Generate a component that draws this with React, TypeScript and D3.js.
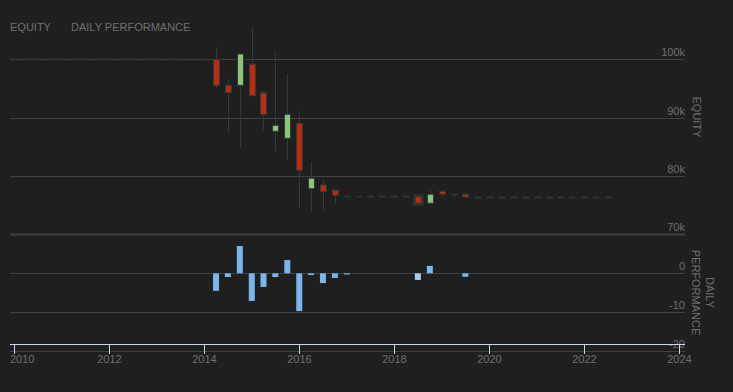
import React from "react";
import * as d3 from "d3";

const quarters = [
  "2010-01-01","2010-04-01","2010-07-01","2010-10-01",
  "2011-01-01","2011-04-01","2011-07-01","2011-10-01",
  "2012-01-01","2012-04-01","2012-07-01","2012-10-01",
  "2013-01-01","2013-04-01","2013-07-01","2013-10-01",
  "2014-01-01","2014-04-01","2014-07-01","2014-10-01",
  "2015-01-01","2015-04-01","2015-07-01","2015-10-01",
  "2016-01-01","2016-04-01","2016-07-01","2016-10-01",
  "2017-01-01","2017-04-01","2017-07-01","2017-10-01",
  "2018-01-01","2018-04-01","2018-07-01","2018-10-01",
  "2019-01-01","2019-04-01","2019-07-01","2019-10-01",
  "2020-01-01","2020-04-01","2020-07-01","2020-10-01",
  "2021-01-01","2021-04-01","2021-07-01","2021-10-01",
  "2022-01-01","2022-04-01","2022-07-01",
];

const openValues = [
  100000,100000,100000,100000,100000,100000,100000,100000,
  100000,100000,100000,100000,100000,100000,100000,100000,100000,
  100000,95544,95544,99143,94224,87661,86461,89032,77823,78458,77549,
  76650,76650,76650,76650,76650,76650,
  76450,75330,77378,76915,76864,
  76400,76400,76400,76400,76400,76400,76400,76400,76400,76400,76400,76400,
];
const highValues = [
  100000,100000,100000,100000,100000,100000,100000,100000,
  100000,100000,100000,100000,100000,100000,100000,100000,100000,
  102108,96624,101080,105535,94567,101251,97481,91140,82399,79434,77549,
  76650,76650,76650,76650,76650,76650,
  76450,77721,77378,76915,76864,
  76400,76400,76400,76400,76400,76400,76400,76400,76400,76400,76400,76400,
];
const lowValues = [
  100000,100000,100000,100000,100000,100000,100000,100000,
  100000,100000,100000,100000,100000,100000,100000,100000,100000,
  94961,87249,84850,93762,87935,84164,82794,74396,74054,74054,75253,
  76650,76650,76650,76650,76650,76650,
  75330,75330,76281,76110,76401,
  76400,76400,76400,76400,76400,76400,76400,76400,76400,76400,76400,76400,
];
const closeValues = [
  100000,100000,100000,100000,100000,100000,100000,100000,
  100000,100000,100000,100000,100000,100000,100000,100000,100000,
  95544,94276,100908,93762,90506,88689,90574,80977,79606,77310,76692,
  76650,76650,76650,76650,76650,76650,
  75330,76864,76864,76915,76401,
  76400,76400,76400,76400,76400,76400,76400,76400,76400,76400,76400,76400,
];
const perfValues = [
  0,0,0,0,0,0,0,0,0,0,0,0,0,0,0,0,0,
  -4.5,-0.95,7.0,-7.1,-3.5,-0.95,3.4,-9.7,-0.45,-2.5,-1.2,
  -0.3,0,0,0,0,0,
  -1.7,1.9,0,0,-0.9,
  0,0,0,0,0,0,0,0,0,0,0,0,
];

const equityTicks = [100000, 90000, 80000, 70000];
const equityTickLabels = ["100k", "90k", "80k", "70k"];
const perfTicks = [0, -10, -20];
const perfTickLabels = ["0", "-10", "-20"];
const yearTicks = [2010, 2012, 2014, 2016, 2018, 2020, 2022, 2024];

const W = 733, H = 392;
const FONT = "'Liberation Sans', Arial, sans-serif";
const BG = "#1f1f1f";
const GRID = "#404040";
const TXT = "#6f6f6f";
const AXIS = "#ccd6eb";
const RED = "#b92c0f";
const GREEN = "#8ec479";
const DARK = "#2f3b3b";
const BAR = "#7cb5ec";

export default function App() {
  const x = d3.scaleTime()
    .domain([new Date(2010, 0, 1), new Date(2024, 0, 1)])
    .range([14.3, 679.3]);
  const yE = d3.scaleLinear().domain([70000, 100000]).range([234.3, 59.3]);
  const yP = d3.scaleLinear().domain([-20, 10]).range([351.3, 234.3]);
  const dates = quarters.map((q) => d3.timeParse("%Y-%m-%d")(q) as Date);
  const left = 10, right = 685;
  const hoverIdx = 34;

  return (
    <div style={{ position: "fixed", left: 0, top: 0 }}>
      <svg width={W} height={H} style={{ display: "block", background: BG }} fontFamily={FONT}>
        <rect width={W} height={H} fill={BG} />
        <text x={10} y={31} fontSize={11} fill={TXT}>EQUITY</text>
        <text x={71} y={31} fontSize={11} fill={TXT}>DAILY PERFORMANCE</text>

        {equityTicks.map((t, i) => (
          <g key={"e" + t}>
            <line x1={left} x2={right} y1={Math.round(yE(t)) + 0.5} y2={Math.round(yE(t)) + 0.5}
              stroke={GRID} strokeWidth={t === 70000 ? 2 : 1} />
            <text x={right} y={yE(t) - 3} textAnchor="end" fontSize={11} fill={TXT}>{equityTickLabels[i]}</text>
          </g>
        ))}
        {perfTicks.map((t) => (
          <g key={"p" + t}>
            <line x1={left} x2={right} y1={Math.round(yP(t)) + 0.5} y2={Math.round(yP(t)) + 0.5}
              stroke={GRID} strokeWidth={1} />
          </g>
        ))}

        <text transform={`translate(693,117) rotate(90)`} textAnchor="middle" fontSize={11} fill={TXT}>EQUITY</text>
        <text transform={`translate(706,292.5) rotate(90)`} textAnchor="middle" fontSize={11} fill={TXT}>
          <tspan x={0} dy={0}>DAILY</tspan>
          <tspan x={0} dy={14}>PERFORMANCE</tspan>
        </text>

        {/* candles */}
        {dates.map((d, i) => {
          const cx = Math.round(x(d)) + 0.5;
          const o = openValues[i], c = closeValues[i];
          const hi = highValues[i], lo = lowValues[i];
          const yo = yE(o), yc = yE(c);
          const top = Math.min(yo, yc), bot = Math.max(yo, yc);
          const flat = Math.abs(bot - top) < 1;
          const fill = c > o ? GREEN : RED;
          return (
            <g key={"c" + i}>
              {hi > Math.max(o, c) && (
                <line x1={cx} x2={cx} y1={yE(hi)} y2={top} stroke={DARK} strokeWidth={1} />
              )}
              {lo < Math.min(o, c) && (
                <line x1={cx} x2={cx} y1={bot} y2={yE(lo)} stroke={DARK} strokeWidth={1} />
              )}
              {i === hoverIdx && (
                <rect x={cx - 4.5} y={top - 1.5} width={9} height={bot - top + 3}
                  fill="none" stroke="#3a4444" strokeOpacity={0.45} strokeWidth={2} />
              )}
              {flat ? (
                <line x1={cx - 3.5} x2={cx + 3.5} y1={Math.round(top) + 0.5} y2={Math.round(top) + 0.5}
                  stroke={DARK} strokeWidth={1.5} />
              ) : (
                <rect x={cx - 3} y={top} width={6} height={bot - top}
                  fill={fill} stroke={DARK} strokeWidth={1} />
              )}
            </g>
          );
        })}

        {/* performance bars */}
        {dates.map((d, i) => {
          const v = perfValues[i];
          if (v === 0) return null;
          const cx = x(d);
          const y0 = yP(0), y1 = yP(v);
          return (
            <rect key={"b" + i} x={cx - 3} width={6}
              y={Math.min(y0, y1)} height={Math.abs(y1 - y0)}
              fill={i === hoverIdx ? "#a6cdf2" : BAR} />
          );
        })}

        {perfTicks.map((t, i) => (
          <text key={"pl" + t} x={right} y={yP(t) - 3} textAnchor="end" fontSize={11} fill={TXT}>{perfTickLabels[i]}</text>
        ))}

        {/* x axis */}
        <line x1={left} x2={right} y1={344.5} y2={344.5} stroke={AXIS} strokeWidth={1} />
        {yearTicks.map((yr, i) => {
          const tx = Math.round(x(new Date(yr, 0, 1))) + 0.5;
          return (
            <g key={"x" + yr}>
              <line x1={tx} x2={tx} y1={344.5} y2={354} stroke={AXIS} strokeWidth={1} />
              <text x={i === 0 ? 10 : tx} y={363} textAnchor={i === 0 ? "start" : "middle"}
                fontSize={11} fill={TXT}>{yr}</text>
            </g>
          );
        })}
      </svg>
    </div>
  );
}
